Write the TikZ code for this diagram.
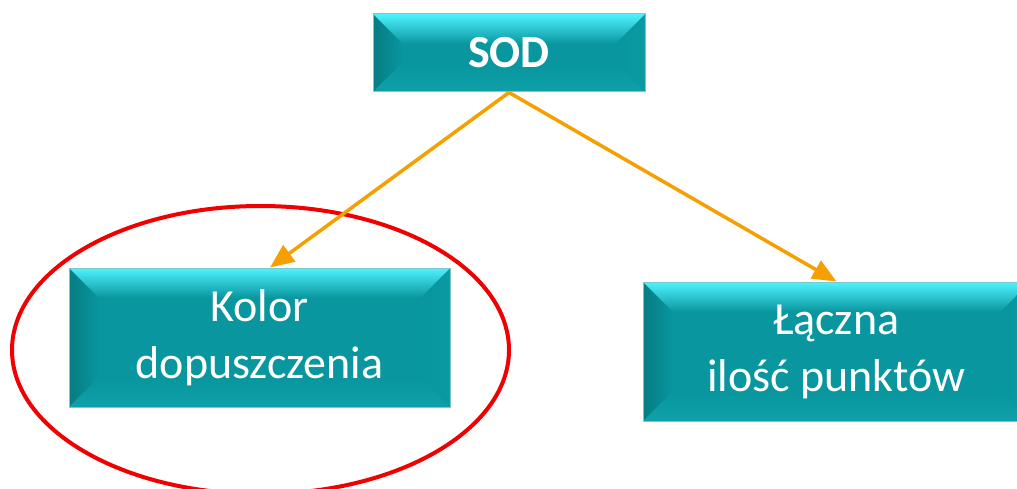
\documentclass[tikz,border=0pt]{standalone}
\usepackage{fontspec}
\setmainfont{Carlito}
\usetikzlibrary{arrows.meta,shapes.geometric}
\definecolor{tealmain}{RGB}{9,150,158}
\definecolor{tealdark}{RGB}{6,124,131}
\definecolor{teallight}{RGB}{78,242,255}
\definecolor{tealmid}{RGB}{22,176,186}
\definecolor{tealright}{RGB}{10,154,162}
\definecolor{tealbot}{RGB}{14,160,168}
\definecolor{tealedge}{RGB}{120,200,204}
\definecolor{arrowor}{RGB}{245,160,0}
\definecolor{ellred}{RGB}{240,0,0}
\begin{document}
\begin{tikzpicture}[x=1pt,y=-1pt,
  sbox/.style={rectangle, inner sep=0pt, fill=tealmain, draw=tealedge, line width=1pt,
    text=white, align=center, font=\fontsize{46}{57}\selectfont,
    path picture={
      \path (path picture bounding box.north west) coordinate (bnw)
            (path picture bounding box.north east) coordinate (bne)
            (path picture bounding box.south west) coordinate (bsw)
            (path picture bounding box.south east) coordinate (bse);
      \shade[left color=tealdark, right color=tealmain]
        (bnw) -- ([shift={(30pt,-30pt)}]bnw) -- ([shift={(30pt,30pt)}]bsw) -- (bsw) -- cycle;
      \shade[left color=tealmain, right color=tealright]
        (bne) -- ([shift={(-30pt,-30pt)}]bne) -- ([shift={(-30pt,30pt)}]bse) -- (bse) -- cycle;
      \shade[top color=tealmain, bottom color=tealbot]
        (bsw) -- ([shift={(30pt,30pt)}]bsw) -- ([shift={(-30pt,30pt)}]bse) -- (bse) -- cycle;
      \shade[top color=teallight, middle color=tealmid, bottom color=tealmain]
        (bnw) -- (bne) -- ([shift={(-30pt,-30pt)}]bne) -- ([shift={(30pt,-30pt)}]bnw) -- cycle;
    }},
  conn/.style={draw=arrowor, line width=3.5pt, -{Triangle[length=24pt,width=20pt]}},
  ring/.style={draw=ellred, line width=4pt, ellipse, inner sep=0pt}]
\useasboundingbox (0,0) rectangle (1017,489);
\clip (0,0) rectangle (1017,489);
\node[sbox, minimum width=272pt, minimum height=78pt,
      font=\fontsize{46}{57}\selectfont\bfseries] (sod) at (509,53) {SOD};
\node[sbox, minimum width=381pt, minimum height=139pt] (kolor) at (259.5,337.5) {Kolor\\dopuszczenia};
\node[sbox, minimum width=387pt, minimum height=139pt] (lacz) at (836.5,351.5) {Łączna\\ilość punktów};
\node[ring, minimum width=497pt, minimum height=288pt] (oval) at (260.5,350) {};
\draw[conn] (sod.south) -- ([xshift=10.5pt]kolor.north);
\draw[conn] (sod.south) -- (lacz.north);
\end{tikzpicture}
\end{document}
